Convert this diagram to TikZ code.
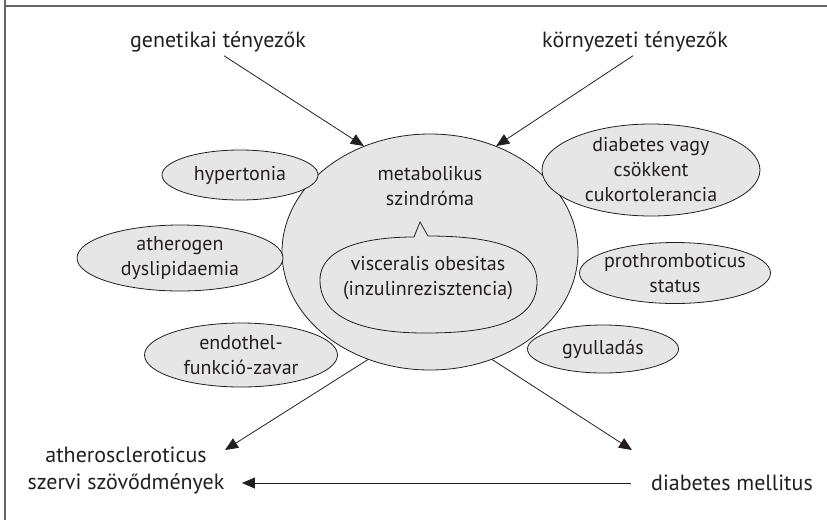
\documentclass[tikz,border=0pt]{standalone}
\usepackage{fontspec}
\setmainfont{PT Sans}
\usepackage{tikz}
\usetikzlibrary{arrows.meta, positioning, shapes.geometric}

\definecolor{ink}{HTML}{231F20}
\definecolor{blob}{HTML}{E6E6E7}

\begin{document}
\begin{tikzpicture}[x=1pt, y=-1pt,
  every node/.style={text=ink, font=\fontsize{20}{25}\selectfont, align=center},
  outer/.style={font=\fontsize{22}{27}\selectfont},
  risk/.style={ellipse, draw=ink, fill=blob, line width=0.8pt, inner sep=0pt},
  arr/.style={-{Triangle[length=13pt,width=11pt]}, draw=ink, line width=0.8pt}]
% Canvas and frame
\useasboundingbox (0,0) rectangle (827,520);
\draw[gray!80!black, line width=1.5pt] (5,0) -- (5,520) (5,6) -- (827,6);

% Causes
\node[outer] (gen) at (218,42) {genetikai tényezők};
\node[outer] (env) at (635,42) {környezeti tényezők};

% Central ellipse
\node[risk, minimum width=296pt, minimum height=236pt] (metab) at (430,252) {};
\node (mstext) at (430,186) {metabolikus\\szindróma};

% Inner bubble
\draw[ink, line width=0.8pt] (414,237) -- (420,222) -- (428,236)
  .. controls (485,236) and (537,245) .. (537,282)
  .. controls (537,326) and (480,333) .. (425,333)
  .. controls (362,333) and (320,318) .. (320,280)
  .. controls (320,246) and (370,237) .. (414,237) -- cycle;
\node (visc) at (428,278) {visceralis obesitas\\(inzulinrezisztencia)};

% Components around
\node[risk, minimum width=156pt, minimum height=50pt] (hyper) at (240,175) {hypertonia};
\node[risk, minimum width=206pt, minimum height=66pt] (dyslip) at (180,258) {atherogen\\dyslipidaemia};
\node[risk, minimum width=193pt, minimum height=64pt] (endo) at (241,355) {endothel-\\funkció-zavar};
\node[risk, minimum width=218pt, minimum height=92pt, inner ysep=-4pt] (diab) at (651,170) {diabetes vagy\\csökkent\\cukortolerancia};
\node[risk, minimum width=191pt, minimum height=61pt, inner xsep=-8pt] (prothr) at (675,273) {prothromboticus\\status};
\node[risk, minimum width=151pt, minimum height=48pt] (gyull) at (603,349) {gyulladás};

% Outcomes
\node[outer] (ascl) at (126,470) {atheroscleroticus\\szervi szövődmények};
\node[outer] (dm) at (732,483) {diabetes mellitus};
\coordinate (ascltip) at (225,450);
\coordinate (dmtip) at (632,450);

% Arrows
\draw[arr] ([xshift=6pt]gen.south) -- (metab.122);
\draw[arr] ([xshift=-2pt]env.south) -- (metab.58);
\draw[arr] (metab.240) -- (ascltip);
\draw[arr] (metab.300) -- (dmtip);
\draw[arr, shorten <=17pt, shorten >=14pt] (dm.west) -- (dm.west -| ascl.east);
\end{tikzpicture}
\end{document}
